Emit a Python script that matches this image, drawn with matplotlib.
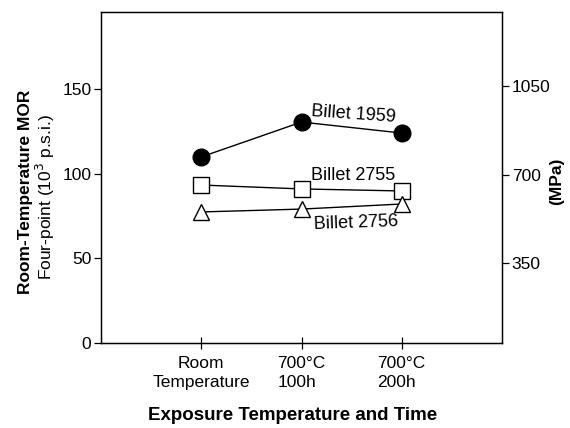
import matplotlib
matplotlib.use("Agg")
import matplotlib.pyplot as plt

plt.rcParams['font.family'] = ['Liberation Sans', 'DejaVu Sans']

# categories on the x axis
categories = ["Room\nTemperature", "700°C\n100h", "700°C\n200h"]
x_pos = [1, 2, 3]

# room-temperature MOR, 10^3 psi
billet_1959 = [109.9, 130.5, 124.0]
billet_2755 = [93.3, 91.0, 89.8]
billet_2756 = [77.4, 79.1, 82.1]

left_ticks = [0, 50, 100, 150]
right_ticks = [350, 700, 1050]

fig = plt.figure(figsize=(5.7, 4.28), dpi=100)
ax = fig.add_axes([101 / 570, 1 - 343 / 428, 401 / 570, 331 / 428])

ax.plot(x_pos, billet_1959, color='black', lw=1.0, marker='o', ms=12,
        mfc='black', mec='black')
ax.plot(x_pos, billet_2755, color='black', lw=1.0, marker='s', ms=11,
        mfc='white', mec='black', mew=1.0)
ax.plot(x_pos, billet_2756, color='black', lw=1.0, marker='^', ms=12,
        mfc='white', mec='black', mew=1.0)

# curve labels
ax.text(2.09, 134.7, "Billet 1959", fontsize=13, ha='left', va='center', rotation=-4)
ax.text(2.09, 99.2, "Billet 2755", fontsize=13, ha='left', va='center')
ax.text(2.12, 70.9, "Billet 2756", fontsize=13, ha='left', va='center', rotation=2)

ax.set_xlim(0, 4)
ax.set_ylim(0, 195.5)
ax.set_yticks(left_ticks)
ax.set_yticklabels([str(t) for t in left_ticks], fontsize=12.5)
ax.set_xticks(x_pos)
labels = ax.set_xticklabels(categories, fontsize=12.5, linespacing=1.35)
labels[0].set_multialignment('center')
labels[1].set_multialignment('left')
labels[2].set_multialignment('left')
ax.tick_params(axis='x', direction='inout', length=8, width=0.9, pad=5)
ax.tick_params(axis='y', direction='out', length=5, width=0.9, pad=2)
for s in ax.spines.values():
    s.set_linewidth(1.0)

ax2 = ax.twinx()
ax2.set_ylim(34, 1343)
ax2.set_yticks(right_ticks)
ax2.set_yticklabels([str(t) for t in right_ticks], fontsize=12.5)
ax2.tick_params(axis='y', direction='out', length=5, width=0.9, pad=2)

# axis titles
fig.text(26 / 570, 1 - 192 / 428, "Room-Temperature MOR", rotation=90,
         fontsize=12.5, fontweight='bold', ha='center', va='center')
fig.text(45 / 570, 1 - 197 / 428, "Four-point (10$^3$ p.s.i.)", rotation=90,
         fontsize=12.5, ha='center', va='center')
fig.text(557 / 570, 1 - 181 / 428, "(MPa)", rotation=90,
         fontsize=12.5, fontweight='bold', ha='center', va='center')
fig.text(293 / 570, 1 - 415 / 428, "Exposure Temperature and Time",
         fontsize=13.5, fontweight='bold', ha='center', va='center')

fig.savefig("out.png", dpi=100)
